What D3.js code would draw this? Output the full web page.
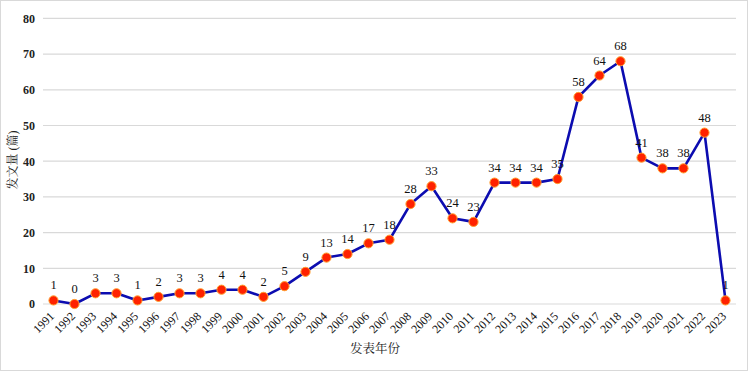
<!DOCTYPE html>
<html>
<head>
<meta charset="utf-8">
<script src="https://cdn.jsdelivr.net/npm/d3@7/dist/d3.min.js"></script>
<style>
  body { margin: 0; background: #fff; }
  svg text { font-family: "Liberation Serif", "Noto Serif CJK SC", "Noto Sans CJK SC", serif; }
</style>
</head>
<body>
<svg id="chart" width="748" height="372"></svg>
<script>
// publication years and counts
var years = ["1991","1992","1993","1994","1995","1996","1997","1998","1999","2000",
  "2001","2002","2003","2004","2005","2006","2007","2008","2009","2010","2011","2012",
  "2013","2014","2015","2016","2017","2018","2019","2020","2021","2022","2023"];
var counts = [1,0,3,3,1,2,3,3,4,4,2,5,9,13,14,17,18,28,33,24,23,34,34,34,35,58,64,68,41,38,38,48,1];
var yTicks = [0,10,20,30,40,50,60,70,80];

var data = years.map(function (y, i) { return { year: y, value: counts[i] }; });

const svg = d3.select('#chart');

// outer border
svg.append('rect')
  .attr('x', 0.5).attr('y', 0.5)
  .attr('width', 747).attr('height', 370)
  .attr('fill', '#fff')
  .attr('stroke', '#d9d9d9');

var plotLeft = 43, plotRight = 736, plotTop = 18.4, plotBottom = 304;

let xScale = d3.scalePoint().domain(years).range([plotLeft, plotRight]).padding(0.5);
let yScale = d3.scaleLinear().domain([0, 80]).range([plotBottom, plotTop]);

// gridlines
svg.append('g').selectAll('line')
  .data(yTicks)
  .enter()
  .append('line')
  .attr('x1', plotLeft).attr('x2', plotRight)
  .attr('y1', d => yScale(d)).attr('y2', d => yScale(d))
  .attr('stroke', '#d9d9d9')
  .attr('stroke-width', 1.2);

// y axis labels
let axisLeft = d3.axisLeft(yScale).tickValues(yTicks).tickSize(0).tickPadding(8);
const gy = svg.append('g').attr('transform', 'translate(' + plotLeft + ',0)').call(axisLeft);
gy.select('.domain').remove();
gy.selectAll('text')
  .attr('font-size', 12)
  .attr('font-weight', 'bold')
  .attr('fill', '#222')
  .style('font-family', '"Liberation Serif", serif');

// x axis labels
let axisBottom = d3.axisBottom(xScale).tickSize(0);
const gx = svg.append('g').attr('transform', 'translate(0,' + plotBottom + ')').call(axisBottom);
gx.select('.domain').remove();
gx.selectAll('text')
  .attr('font-size', 12)
  .attr('fill', '#111')
  .style('font-family', '"Liberation Serif", serif')
  .attr('text-anchor', 'end')
  .attr('x', 0).attr('y', 0).attr('dy', 0)
  .attr('transform', 'translate(1,13) rotate(-45)');

// line
svg.append('path')
  .datum(data)
  .attr('d', d3.line()
    .x(d => xScale(d.year))
    .y(d => yScale(d.value)))
  .attr('fill', 'none')
  .attr('stroke', '#0c0cb0')
  .attr('stroke-width', 2.6)
  .attr('stroke-linejoin', 'round');

// markers
svg.append('g').selectAll('circle')
  .data(data)
  .enter()
  .append('circle')
  .attr('cx', d => xScale(d.year))
  .attr('cy', d => yScale(d.value))
  .attr('r', 4.6)
  .attr('fill', '#ff2200')
  .attr('stroke', '#ffa030')
  .attr('stroke-width', 1);

// value labels
svg.append('g').selectAll('text')
  .data(data)
  .enter()
  .append('text')
  .attr('x', d => xScale(d.year))
  .attr('y', d => yScale(d.value) - 11)
  .attr('text-anchor', 'middle')
  .attr('font-size', 12.5)
  .attr('fill', '#111')
  .text(d => d.value);

// axis titles
svg.append('text')
  .attr('x', 375).attr('y', 353)
  .attr('text-anchor', 'middle')
  .attr('font-size', 12.5)
  .attr('fill', '#222')
  .text('发表年份');

svg.append('text')
  .attr('transform', 'translate(17,160) rotate(-90)')
  .attr('text-anchor', 'middle')
  .attr('font-size', 12)
  .attr('fill', '#222')
  .text('发文量 (篇)');
</script>
</body>
</html>
